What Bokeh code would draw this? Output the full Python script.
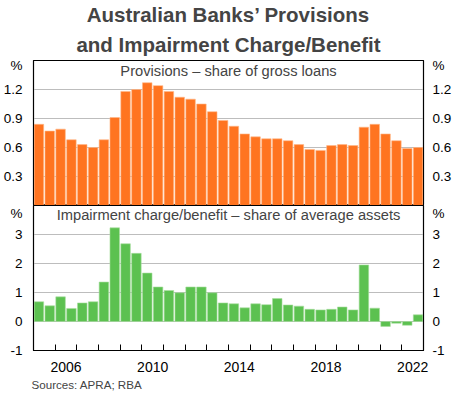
from bokeh.plotting import figure
from bokeh.layouts import column
from bokeh.models import (Range1d, LinearAxis, FixedTicker, Label, Title,
                          CustomJSTickFormatter, ColumnDataSource)
from bokeh.embed import file_html
from bokeh.resources import INLINE

# Half-yearly observations, 2005 H1 .. 2022 H2
periods = [2005 + 0.5 * i for i in range(36)]
provisions = [0.84, 0.77, 0.79, 0.68, 0.63, 0.60, 0.68, 0.91, 1.18, 1.20,
              1.27, 1.24, 1.18, 1.12, 1.10, 1.05, 0.97, 0.88, 0.82, 0.74,
              0.71, 0.69, 0.69, 0.67, 0.63, 0.58, 0.57, 0.62, 0.63, 0.62,
              0.81, 0.84, 0.74, 0.67, 0.59, 0.60]
impairment = [0.68, 0.54, 0.85, 0.45, 0.64, 0.68, 1.36, 3.23, 2.68, 2.35,
              1.67, 1.19, 1.07, 0.99, 1.19, 1.19, 0.99, 0.64, 0.61, 0.47,
              0.61, 0.58, 0.79, 0.57, 0.53, 0.42, 0.40, 0.42, 0.50, 0.40,
              1.95, 0.46, -0.17, -0.06, -0.13, 0.23]
year_labels = [2006, 2010, 2014, 2018, 2022]
top_ticks = [0.3, 0.6, 0.9, 1.2]
bottom_ticks = [-1, 0, 1, 2, 3]
top_unit_pos = 1.45      # where the "%" unit label sits on the y axes
bottom_unit_pos = 3.76

ORANGE = "#FF7420"
GREEN = "#5CC150"
FONT = "Liberation Sans"
centers = [p + 0.25 for p in periods]
src = ColumnDataSource(dict(x=centers, prov=provisions, imp=impairment))

xr = Range1d(2005, 2023)

def style(p, ticks, unit_pos, fmt):
    p.outline_line_color = "black"
    p.outline_line_width = 1.2
    p.background_fill_color = "white"
    p.border_fill_color = "white"
    p.xgrid.visible = False
    p.ygrid.ticker = FixedTicker(ticks=ticks)
    p.ygrid.grid_line_color = "#BDBDBD"
    p.ygrid.grid_line_width = 1
    p.yaxis.visible = False
    code = ("if (Math.abs(tick - %s) < 1e-6) { return '%%'; } return %s;"
            % (unit_pos, fmt))
    for side, standoff in (("left", 5), ("right", 3)):
        ax = LinearAxis(ticker=FixedTicker(ticks=ticks + [unit_pos]),
                        formatter=CustomJSTickFormatter(code=code))
        ax.major_tick_line_color = None
        ax.minor_tick_line_color = None
        ax.axis_line_color = "black"
        ax.major_label_standoff = standoff
        ax.major_label_text_font = FONT
        ax.major_label_text_font_size = "13.5px"
        ax.major_label_text_color = "black"
        p.add_layout(ax, side)

# ---- top panel ----
top = figure(width=454, height=205, x_range=xr, y_range=Range1d(0, 1.5),
             output_backend="svg", toolbar_location=None,
             min_border_left=30, min_border_right=30, min_border_top=59,
             min_border_bottom=0, x_axis_location=None)
style(top, top_ticks, top_unit_pos, "tick.toFixed(1)")
top.vbar(x="x", top="prov", width=0.44, source=src, fill_color=ORANGE,
         line_color="#FFB98A", line_width=0.6)
top.title.visible = False
t2 = Title(text="and Impairment Charge/Benefit", align="center",
           text_font=FONT, text_font_size="20.5px", text_font_style="bold",
           standoff=10, offset=0)
t1 = Title(text="Australian Banks’ Provisions", align="center",
           text_font=FONT, text_font_size="20.5px", text_font_style="bold",
           standoff=0)
top.add_layout(t2, "above")
top.add_layout(t1, "above")
top.add_layout(Label(x=2014, y=1.47, text="Provisions – share of gross loans",
                     text_align="center", text_baseline="top",
                     text_font=FONT, text_font_size="14.7px"))

# ---- bottom panel ----
bot = figure(width=454, height=188, x_range=xr, y_range=Range1d(-1, 4),
             output_backend="svg", toolbar_location=None,
             min_border_left=30, min_border_right=30, min_border_top=0,
             min_border_bottom=43)
style(bot, bottom_ticks, bottom_unit_pos, "tick.toFixed(0)")
bot.vbar(x="x", top="imp", bottom=0, width=0.44, source=src, fill_color=GREEN,
         line_color="#A8DDA0", line_width=0.6)
xax = bot.xaxis[0]
xax.ticker = FixedTicker(ticks=[y + 0.5 for y in year_labels],
                         minor_ticks=list(range(2005, 2024)))
xax.formatter = CustomJSTickFormatter(code="return Math.floor(tick).toString();")
xax.major_tick_line_color = None
xax.minor_tick_in = 6
xax.minor_tick_out = 0
xax.minor_tick_line_color = "black"
xax.axis_line_color = "black"
xax.major_label_standoff = 5
xax.major_label_text_font = FONT
xax.major_label_text_font_size = "14px"
xax.major_label_text_color = "black"
bot.add_layout(Label(x=2014, y=3.95,
                     text="Impairment charge/benefit – share of average assets",
                     text_align="center", text_baseline="top",
                     text_font=FONT, text_font_size="14.7px"))
bot.add_layout(Title(text="Sources: APRA; RBA", align="left", text_font=FONT,
                     text_font_size="11.6px", text_font_style="normal",
                     standoff=2, offset=-2), "below")

layout = column(top, bot, spacing=0)
open("out.html", "w").write(file_html(layout, INLINE))
